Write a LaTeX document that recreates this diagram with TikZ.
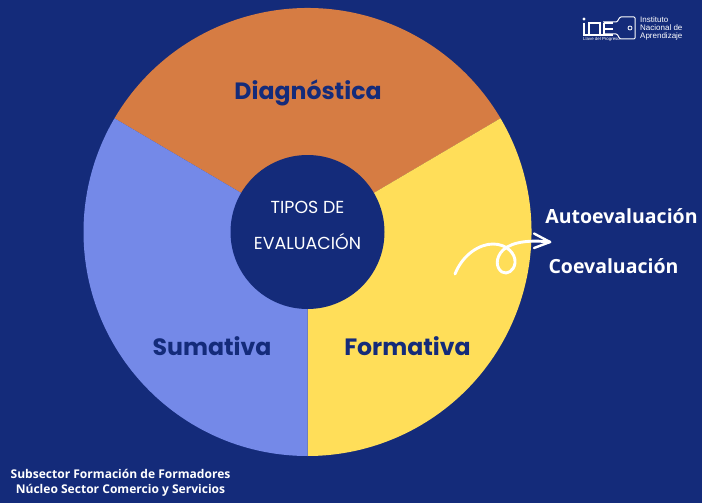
\documentclass[tikz,border=0pt]{standalone}
\usepackage{fontspec}
\setmainfont{Open Sans}
\newfontfamily\pop{Poppins}
\newfontfamily\heros{Liberation Sans}
\definecolor{bg}{HTML}{142B7A}
\definecolor{orangeseg}{HTML}{D67C43}
\definecolor{blueseg}{HTML}{7489E8}
\definecolor{yellowseg}{HTML}{FFDE59}
\tikzset{
  seglabel/.style={font=\pop\bfseries\fontsize{23.6}{25}\selectfont,text=bg,inner sep=0pt,anchor=center},
  centertext/.style={font=\pop\fontsize{17.4}{18}\selectfont,text=white,inner sep=0pt,anchor=center},
  sidetext/.style={font=\bfseries\fontsize{19.5}{20}\selectfont,text=white,inner sep=0pt,anchor=center},
  foot/.style={font=\bfseries\fontsize{12.05}{13}\selectfont,text=white,inner sep=0pt,anchor=center},
  logo/.style={draw=white,line width=1pt,rounded corners=1pt},
  logotext/.style={font=\heros\fontsize{8}{8}\selectfont,text=white,inner sep=0pt,anchor=west}
}
\begin{document}
\begin{tikzpicture}[x=1pt,y=-1pt]
\useasboundingbox (0,0) rectangle (702,503);
\fill[bg] (0,0) rectangle (702,503);
\coordinate (c) at (307.5,232);
\fill[orangeseg] (c) -- ++(-149.5:224) arc[start angle=-149.5,end angle=-30.5,radius=224] -- cycle;
\fill[yellowseg] (c) -- ++(-30.5:224) arc[start angle=-30.5,end angle=90,radius=224] -- cycle;
\fill[blueseg] (c) -- ++(90:224) arc[start angle=90,end angle=210.5,radius=224] -- cycle;
\fill[bg] (c) circle[radius=77];
\node[seglabel] (d) at (308,93) {Diagnóstica};
\node[seglabel] (s) at (212,346.5) {Sumativa};
\node[seglabel] (f) at (407.5,346.5) {Formativa};
\node[centertext] (t1) at (307.5,207) {TIPOS DE};
\node[centertext] (t2) at (307.5,241.5) {EVALUACIÓN};
\node[sidetext] (a) at (621.5,216) {Autoevaluación};
\node[sidetext] (co) at (613.5,266) {Coevaluación};
\node[foot] (f1) at (120.5,474) {Subsector Formación de Formadores};
\node[foot] (f2) at (120.5,490.5) {Núcleo Sector Comercio y Servicios};
% curly arrow
\coordinate (as) at (455,274);
\coordinate (at) at (550,242);
\draw[white,line width=2.9pt,line cap=round,line join=round]
  (as) .. controls (463,254) and (480,244) .. (493,244)
  .. controls (507,244) and (516,254) .. (515,263)
  .. controls (514,271) and (507,275) .. (502,272)
  .. controls (496,268) and (495,258) .. (503,250)
  .. controls (513,241) and (532,240) .. (at);
\draw[white,line width=2.4pt,line cap=round,line join=round]
  (534,233.5) -- (at) -- (534,248);
% logo
\draw[logo] (603,22) -- (617,22) -- (620,17) -- (635,17) -- (635,39) -- (620,39) -- (617,34) -- (603,34);
\draw[white,line width=0.8pt] (630,28) circle[radius=2];
\draw[white,line width=1.3pt] (584,23) -- (584,35) -- (613,35)
  (589,35) -- (589,23) -- (600,23) -- (600,35) (604,23) -- (613,23) (604,29) -- (613,29) (604,23) -- (604,35);
\fill[white] (584,19) circle[radius=1.6];
\node[font=\heros\fontsize{4.4}{5}\selectfont,text=white,inner sep=0pt,anchor=west] (lp) at (583,39.5) {Llave del Progreso};
\node[logotext] (l1) at (640,20) {Instituto};
\node[logotext] (l2) at (640,28) {Nacional de};
\node[logotext] (l3) at (640,36) {Aprendizaje};
\end{tikzpicture}
\end{document}
